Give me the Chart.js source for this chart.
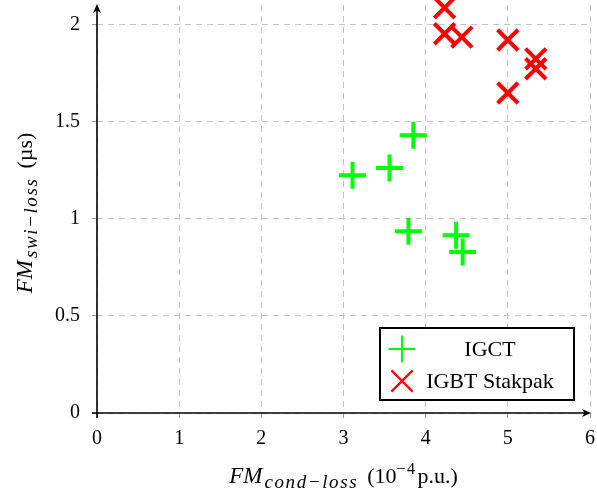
<!DOCTYPE html>
<html><head><meta charset="utf-8">
<script src="https://cdn.jsdelivr.net/npm/chart.js@4/dist/chart.umd.min.js"></script>
<style>html,body{margin:0;padding:0;background:#fff}canvas{display:block}</style>
</head><body>
<canvas id="c" width="597" height="494"></canvas>
<script>
// ---- data ----
const igctX = [3.11, 3.56, 3.85, 3.79, 4.37, 4.45];
const igctY = [1.224, 1.261, 1.429, 0.936, 0.915, 0.829];
const igbtX = [4.23, 4.23, 4.44, 5.00, 5.00, 5.34, 5.34];
const igbtY = [2.086, 1.952, 1.935, 1.920, 1.647, 1.823, 1.772];
const seriesNames = ['IGCT', 'IGBT Stakpak'];
const xTicks = [0, 1, 2, 3, 4, 5, 6];
const yTicks = [0, 0.5, 1, 1.5, 2];
const xTitleParts = { main: 'FM', sub: 'cond\u2212loss', unit1: '(10', sup: '\u22124', unit2: 'p.u.)' };
const yTitleParts = { main: 'FM', sub: 'swi\u2212loss', unit: '(\u00b5s)' };

const SERIF = "'Liberation Serif','Times New Roman',serif";
const GREEN = '#00ff00', RED = '#ff0000';

function drawArrow(ctx, x, y, ang) {
  ctx.save();
  ctx.translate(x, y); ctx.rotate(ang);
  ctx.beginPath();
  ctx.moveTo(0, 0); ctx.lineTo(-9, -4); ctx.lineTo(-6.5, 0); ctx.lineTo(-9, 4); ctx.closePath();
  ctx.fill();
  ctx.restore();
}

const axesPlugin = {
  id: 'axesArrows',
  beforeDatasetsDraw(chart) {
    const { ctx, chartArea: a, scales: { x, y } } = chart;
    const x0 = x.getPixelForValue(0), y0 = y.getPixelForValue(0);
    ctx.save();
    ctx.strokeStyle = '#000'; ctx.fillStyle = '#000'; ctx.lineWidth = 1.6;
    ctx.beginPath(); ctx.moveTo(x0 - 5, y0); ctx.lineTo(a.right - 3, y0); ctx.stroke();
    drawArrow(ctx, a.right + 1, y0, 0);
    ctx.beginPath(); ctx.moveTo(x0, y0 + 5); ctx.lineTo(x0, a.top + 3); ctx.stroke();
    drawArrow(ctx, x0, a.top - 1, -Math.PI / 2);
    ctx.restore();
  }
};

function drawMarker(ctx, style, cx, cy, r, color, lw) {
  ctx.save();
  ctx.strokeStyle = color; ctx.lineWidth = lw;
  ctx.beginPath();
  if (style === 'cross') {
    ctx.moveTo(cx - r, cy); ctx.lineTo(cx + r, cy);
    ctx.moveTo(cx, cy - r); ctx.lineTo(cx, cy + r);
  } else {
    const d = r * Math.SQRT1_2;
    ctx.moveTo(cx - d, cy - d); ctx.lineTo(cx + d, cy + d);
    ctx.moveTo(cx + d, cy - d); ctx.lineTo(cx - d, cy + d);
  }
  ctx.stroke();
  ctx.restore();
}

const legendPlugin = {
  id: 'boxLegend',
  afterDraw(chart) {
    const { ctx, chartArea: a } = chart;
    const L = a.right - 210, T = a.bottom - 85, W = 194, H = 72;
    ctx.save();
    ctx.fillStyle = '#fff'; ctx.fillRect(L, T, W, H);
    ctx.strokeStyle = '#000'; ctx.lineWidth = 2; ctx.strokeRect(L, T, W, H);
    const ds = chart.data.datasets;
    const rows = [T + 21, T + 53];
    ctx.font = '22px ' + SERIF; ctx.fillStyle = '#000';
    ctx.textAlign = 'center'; ctx.textBaseline = 'middle';
    ds.forEach((d, i) => {
      drawMarker(ctx, d.pointStyle, L + 22, rows[i], d.pointStyle === 'cross' ? 13.5 : 15, d.borderColor, 2.2);
      ctx.fillText(d.label, L + 110, rows[i] + 1);
    });
    ctx.restore();
  }
};

function seq(ctx, parts) {
  let w = 0;
  parts.forEach(p => { ctx.font = p.font; ctx.letterSpacing = (p.ls || 0) + 'px'; p.w = ctx.measureText(p.text).width; w += p.w + (p.gap || 0); });
  return w;
}
function drawSeq(ctx, parts, startX, baseY) {
  let xx = startX;
  parts.forEach(p => {
    ctx.font = p.font; ctx.letterSpacing = (p.ls || 0) + 'px';
    ctx.fillText(p.text, xx, baseY + (p.dy || 0));
    xx += p.w + (p.gap || 0);
  });
}

const titlesPlugin = {
  id: 'mathTitles',
  afterDraw(chart) {
    const { ctx, chartArea: a } = chart;
    ctx.save();
    ctx.fillStyle = '#000'; ctx.textAlign = 'left'; ctx.textBaseline = 'alphabetic';
    const xp = [
      { text: xTitleParts.main, font: 'italic 23px ' + SERIF, gap: 2 },
      { text: xTitleParts.sub, font: 'italic 19px ' + SERIF, dy: 5, ls: 1.6, gap: 9 },
      { text: xTitleParts.unit1, font: '22px ' + SERIF },
      { text: xTitleParts.sup, font: '16px ' + SERIF, dy: -9, ls: 1.5, gap: 1 },
      { text: xTitleParts.unit2, font: '22px ' + SERIF }
    ];
    const wx = seq(ctx, xp);
    drawSeq(ctx, xp, (a.left + a.right) / 2 - wx / 2, 483);

    const yp = [
      { text: yTitleParts.main, font: 'italic 23px ' + SERIF, gap: 2 },
      { text: yTitleParts.sub, font: 'italic 19px ' + SERIF, dy: 5, ls: 1.6, gap: 9 },
      { text: yTitleParts.unit, font: '22px ' + SERIF }
    ];
    const wy = seq(ctx, yp);
    ctx.translate(32, (a.top + a.bottom) / 2 + 4);
    ctx.rotate(-Math.PI / 2);
    drawSeq(ctx, yp, -wy / 2, 0);
    ctx.restore();
  }
};

const tickFont = { family: SERIF, size: 20 };
const gridCommon = { color: '#c4c4c4', lineWidth: 1, tickColor: '#9a9a9a', tickLength: 5, drawTicks: true };

new Chart(document.getElementById('c'), {
  type: 'scatter',
  data: {
    datasets: [
      { label: seriesNames[0], data: igctX.map((v, i) => ({ x: v, y: igctY[i] })),
        pointStyle: 'cross', pointRadius: 13.5, pointHoverRadius: 13.5, pointBorderWidth: 4,
        borderColor: GREEN, backgroundColor: GREEN, clip: false },
      { label: seriesNames[1], data: igbtX.map((v, i) => ({ x: v, y: igbtY[i] })),
        pointStyle: 'crossRot', pointRadius: 14.5, pointHoverRadius: 14.5, pointBorderWidth: 4,
        borderColor: RED, backgroundColor: RED, clip: false }
    ]
  },
  options: {
    responsive: false, animation: false, devicePixelRatio: 1, events: [],
    layout: { autoPadding: false, padding: { top: 5, right: 7, left: 0, bottom: 0 } },
    plugins: { legend: { display: false }, tooltip: { enabled: false } },
    scales: {
      x: {
        type: 'linear', min: 0, max: 6,
        afterBuildTicks: s => { s.ticks = xTicks.map(v => ({ value: v })); },
        afterFit: s => { s.height = 81; s.paddingLeft = 0; s.paddingRight = 0; },
        grid: gridCommon,
        border: { display: false, dash: [6, 5] },
        ticks: { font: tickFont, color: '#000', padding: 9, maxRotation: 0, callback: v => String(v) }
      },
      y: {
        type: 'linear', min: 0, max: 2.1,
        afterBuildTicks: s => { s.ticks = yTicks.map(v => ({ value: v })); },
        afterFit: s => { s.width = 97; s.paddingTop = 0; s.paddingBottom = 0; },
        grid: gridCommon,
        border: { display: false, dash: [6, 5] },
        ticks: { font: tickFont, color: '#000', padding: 12, callback: v => String(v) }
      }
    }
  },
  plugins: [axesPlugin, legendPlugin, titlesPlugin]
});
</script>
</body></html>
